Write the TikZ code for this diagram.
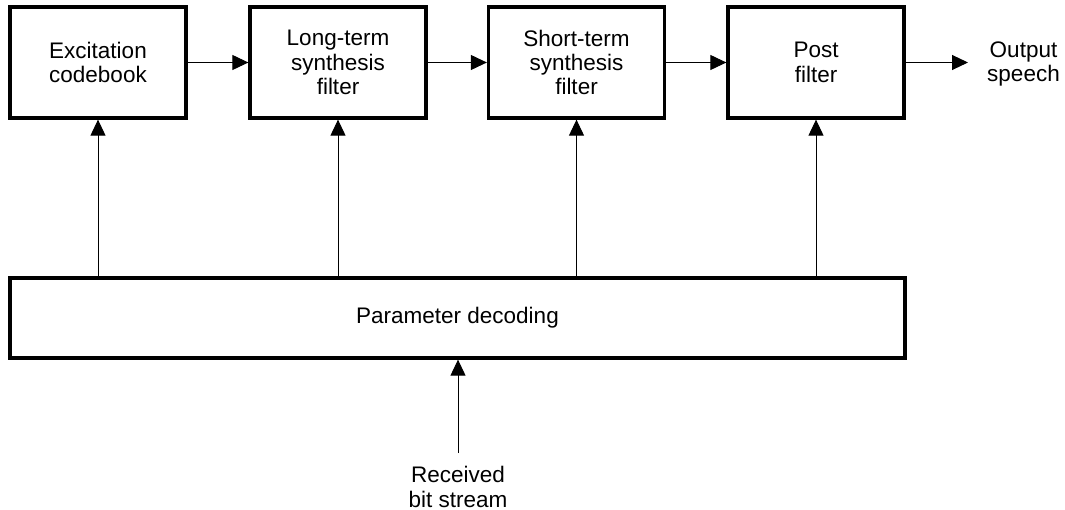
\documentclass[tikz,border=0pt]{standalone}
\usepackage{fontspec}
\setmainfont{Liberation Sans}
\usetikzlibrary{arrows.meta}
\begin{document}
\begin{tikzpicture}[x=1pt,y=-1pt,
  txt/.style={font=\fontsize{22.5}{24.4}\selectfont},
  blk/.style={draw, line width=3.3pt, minimum width=176pt, minimum height=111pt,
    align=center, inner sep=0pt, txt},
  lbl/.style={align=center, inner sep=0pt, txt},
  conn/.style={line width=1pt, -{Triangle[length=16pt,width=15pt]}}]
\useasboundingbox (0,0) rectangle (1065,510);
\node[blk] (exc) at (98,62.5) {Excitation\\codebook};
\node[blk] (lt) at (338,62.5) {Long-term\\synthesis\\filter};
\node[blk] (st) at (576.5,62.5) {Short-term\\synthesis\\filter};
\node[blk] (post) at (816,62.5) {Post\\filter};
\node[lbl] (out) at (1023.5,64) {Output\\speech};
\coordinate (outend) at (968,62.5);
\node[blk, minimum width=895pt, minimum height=80pt] (pd) at (457.5,318) {Parameter decoding};
\node[lbl] (rbt) at (458,487) {Received\\bit stream};
\coordinate (rb) at (458,453);
\draw[conn] (exc) -- (lt);
\draw[conn] (lt) -- (st);
\draw[conn] (st) -- (post);
\draw[conn] (post) -- (outend);
\draw[conn] (pd.north -| exc) -- (exc.south);
\draw[conn] (pd.north -| lt) -- (lt.south);
\draw[conn] (pd.north -| st) -- (st.south);
\draw[conn] (pd.north -| post) -- (post.south);
\draw[conn] (rb) -- (pd.south -| rb);
\end{tikzpicture}
\end{document}
